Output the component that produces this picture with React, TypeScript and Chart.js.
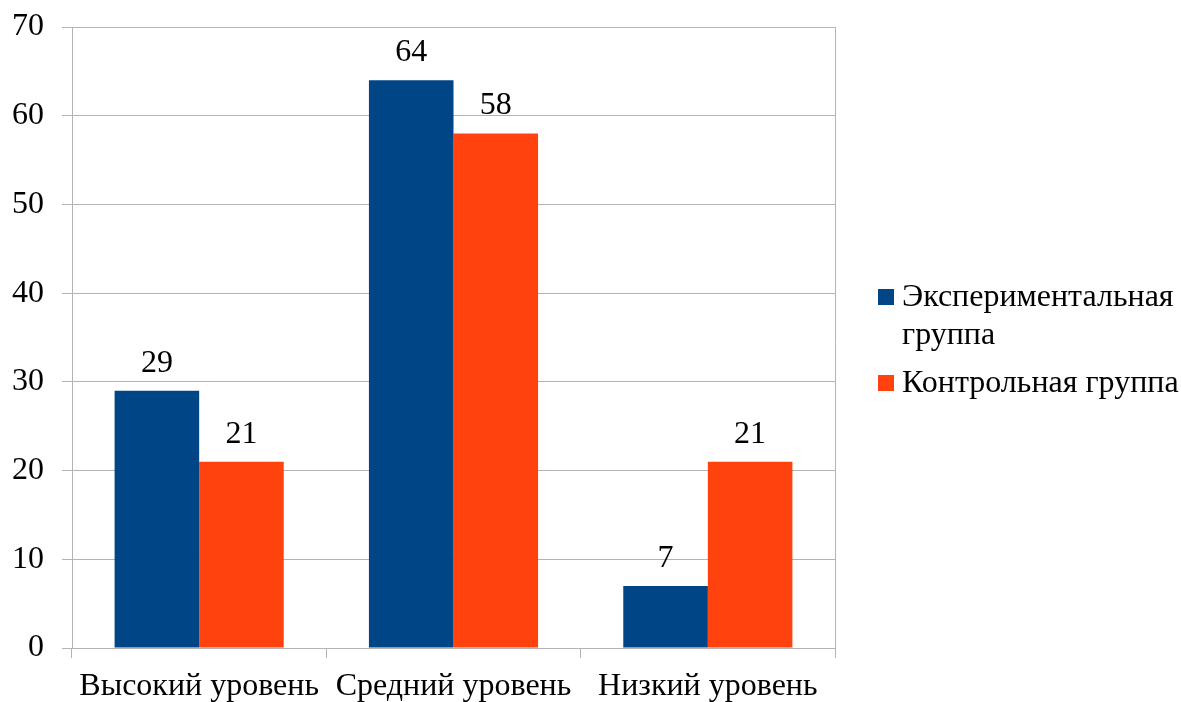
import React, { useEffect, useRef } from "react";
import { Chart, registerables } from "chart.js";

Chart.register(...registerables);

const categories = ["Высокий уровень", "Средний уровень", "Низкий уровень"];
const experimental = [29, 64, 7];
const control = [21, 58, 21];
const seriesNames = [["Экспериментальная", "группа"], ["Контрольная группа"]];
const colors = ["#004586", "#ff420e"];
const FONT = '"Liberation Serif", serif';
const FS = 32;

const valueLabels = {
  id: "valueLabels",
  afterDatasetsDraw(chart: any) {
    const ctx = chart.ctx;
    ctx.save();
    ctx.font = `${FS}px ${FONT}`;
    ctx.fillStyle = "#000";
    ctx.textAlign = "center";
    ctx.textBaseline = "alphabetic";
    chart.data.datasets.forEach((ds: any, i: number) => {
      const meta = chart.getDatasetMeta(i);
      meta.data.forEach((bar: any, j: number) => {
        ctx.fillText(String(ds.data[j]), bar.x, bar.y - 19);
      });
    });
    ctx.restore();
  },
};

const frameAndLegend = {
  id: "frameAndLegend",
  afterDraw(chart: any) {
    const ctx = chart.ctx;
    const a = chart.chartArea;
    ctx.save();
    ctx.strokeStyle = "#b3b3b3";
    ctx.lineWidth = 1;
    ctx.beginPath();
    const rx = Math.round(a.right) + 0.5;
    ctx.moveTo(rx, a.top);
    ctx.lineTo(rx, a.bottom + 10);
    ctx.stroke();

    ctx.font = `${FS}px ${FONT}`;
    ctx.textAlign = "left";
    ctx.textBaseline = "alphabetic";
    const sqX = 878;
    const textX = 902;
    const baselines = [[306, 344], [392]];
    seriesNames.forEach((lines, i) => {
      const b0 = baselines[i][0];
      ctx.fillStyle = colors[i];
      ctx.fillRect(sqX, b0 - 17, 16, 16);
      ctx.fillStyle = "#000";
      lines.forEach((t, k) => ctx.fillText(t, textX, baselines[i][k]));
    });
    ctx.restore();
  },
};

export default function App() {
  const ref = useRef<HTMLCanvasElement>(null);
  useEffect(() => {
    let chart: any = null;
    let cancelled = false;
    const make = () => {
      if (cancelled || !ref.current) return;
      chart = new Chart(ref.current, {
        type: "bar",
        data: {
          labels: categories,
          datasets: [
            { label: seriesNames[0].join(" "), data: experimental, backgroundColor: colors[0] },
            { label: seriesNames[1].join(" "), data: control, backgroundColor: colors[1] },
          ],
        },
        options: {
          animation: false,
          responsive: false,
          devicePixelRatio: 1,
          layout: { padding: { top: 27, right: 346, left: 0, bottom: 0 } },
          datasets: { bar: { categoryPercentage: 0.665, barPercentage: 1 } },
          plugins: { legend: { display: false }, tooltip: { enabled: false } },
          scales: {
            x: {
              afterFit: (s: any) => { s.height = 54; s.paddingLeft = 0; s.paddingRight = 0; },
              grid: { drawOnChartArea: false, drawTicks: true, tickLength: 10, tickColor: "#b3b3b3", offset: true },
              border: { color: "#b3b3b3" },
              ticks: { color: "#000", font: { family: FONT, size: FS }, padding: 9, maxRotation: 0, autoSkip: false },
            },
            y: {
              min: 0,
              max: 70,
              afterFit: (s: any) => { s.width = 72; s.paddingTop = 0; s.paddingBottom = 0; },
              grid: { color: "#b3b3b3", tickLength: 10, tickColor: "#b3b3b3" },
              border: { color: "#b3b3b3" },
              ticks: { stepSize: 10, color: "#000", font: { family: FONT, size: FS }, padding: 18 },
            },
          },
        },
        plugins: [valueLabels, frameAndLegend],
      });
    };
    const fonts: any = (document as any).fonts;
    if (fonts && fonts.load) {
      fonts.load(`${FS}px "Liberation Serif"`, "Экспериментальная 0123").then(make, make);
    } else make();
    return () => { cancelled = true; if (chart) chart.destroy(); };
  }, []);
  return (
    <div style={{ position: "fixed", left: 0, top: 0, width: 1181, height: 702, background: "#fff" }}>
      <canvas ref={ref} width={1181} height={702} style={{ display: "block" }} />
    </div>
  );
}
